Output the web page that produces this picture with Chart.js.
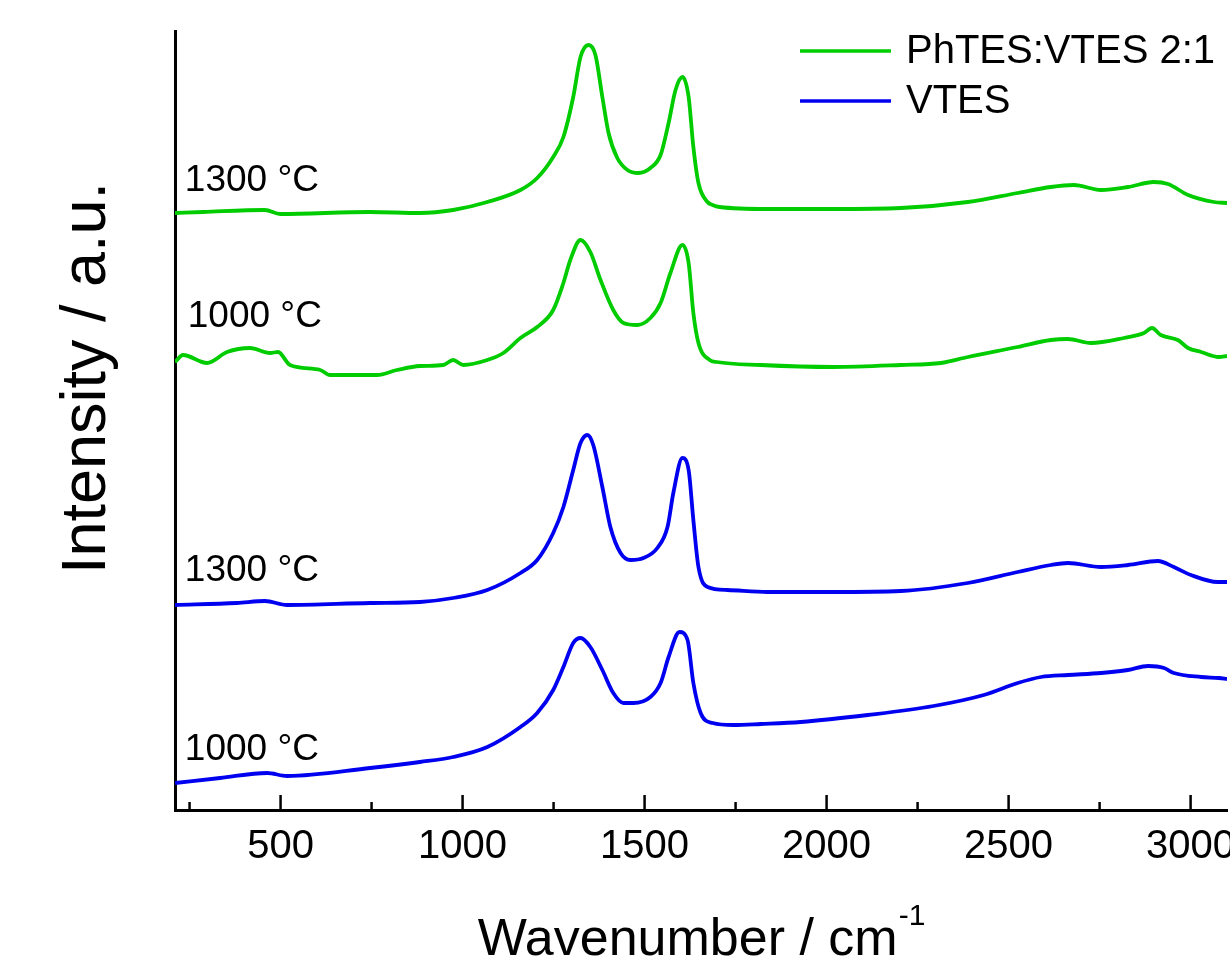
<!DOCTYPE html>
<html>
<head>
<meta charset="utf-8">
<script src="https://cdn.jsdelivr.net/npm/chart.js@4/dist/chart.umd.min.js"></script>
<style>
  html, body { margin: 0; padding: 0; background: #fff; }
  #wrap { width: 1230px; height: 961px; }
</style>
</head>
<body>
<div id="wrap"><canvas id="raman" width="1230" height="961"></canvas></div>
<script>
// wavenumbers (cm-1) and intensities (a.u., curves stacked with offsets)
const green1300_x = [210, 287, 457, 499, 746, 883, 974, 1068, 1159, 1205, 1249, 1277, 1304, 1324, 1346, 1365, 1384, 1401, 1425, 1453, 1483, 1516, 1544, 1566, 1585, 1604, 1621, 1634, 1648, 1673, 1687, 1706, 1838, 2019, 2204, 2388, 2525, 2616, 2679, 2754, 2828, 2899, 2938, 2993, 3064, 3100];
const green1300_y = [597, 598, 600, 596, 598, 597, 600, 608, 620, 632, 653, 673, 713, 753, 765, 755, 713, 677, 652, 640, 637, 642, 655, 687, 720, 733, 713, 663, 627, 608, 605, 603, 601, 601, 602, 608, 617, 623, 625, 620, 623, 628, 626, 615, 608, 607];

const green1000_x = [210, 232, 298, 353, 416, 471, 493, 526, 609, 636, 710, 765, 820, 883, 947, 974, 1002, 1068, 1112, 1159, 1205, 1249, 1277, 1296, 1324, 1351, 1379, 1414, 1442, 1480, 1516, 1544, 1571, 1604, 1621, 1634, 1648, 1679, 1698, 1819, 2019, 2204, 2314, 2388, 2525, 2616, 2663, 2726, 2817, 2872, 2894, 2918, 2965, 2993, 3029, 3078, 3100];
const green1000_y = [448, 455, 447, 458, 462, 457, 458, 445, 440, 435, 435, 435, 440, 444, 445, 450, 445, 450, 457, 472, 483, 500, 527, 550, 570, 558, 530, 500, 487, 485, 492, 507, 537, 565, 547, 497, 467, 450, 448, 445, 443, 445, 447, 453, 463, 470, 471, 467, 472, 477, 482, 475, 470, 462, 458, 453, 454];

const blue1300_x = [210, 380, 457, 518, 746, 883, 974, 1068, 1159, 1205, 1249, 1277, 1304, 1324, 1343, 1359, 1384, 1406, 1434, 1461, 1497, 1535, 1563, 1579, 1604, 1621, 1634, 1648, 1673, 1728, 1838, 2019, 2204, 2388, 2525, 2616, 2663, 2754, 2828, 2910, 2954, 3001, 3075, 3100];
const blue1300_y = [205, 207, 209, 205, 207, 208, 212, 220, 237, 250, 277, 303, 340, 367, 375, 365, 323, 283, 257, 250, 252, 262, 283, 317, 352, 340, 290, 243, 223, 220, 218, 218, 219, 227, 238, 245, 247, 243, 245, 249, 243, 235, 228, 228];

const blue1000_x = [210, 334, 463, 518, 746, 883, 974, 1068, 1159, 1205, 1249, 1277, 1304, 1324, 1351, 1384, 1414, 1442, 1469, 1516, 1544, 1566, 1596, 1618, 1634, 1654, 1687, 1744, 1819, 1929, 2113, 2294, 2432, 2525, 2589, 2663, 2754, 2828, 2883, 2927, 2954, 3029, 3078, 3100];
const blue1000_y = [27, 32, 37, 34, 42, 48, 53, 63, 83, 97, 120, 143, 167, 172, 163, 140, 117, 107, 107, 113, 127, 153, 178, 170, 127, 97, 87, 85, 86, 88, 95, 104, 115, 127, 133, 135, 137, 140, 144, 142, 137, 133, 132, 131];

const xTicks = [500, 1000, 1500, 2000, 2500, 3000];
const legendNames = ["PhTES:VTES 2:1", "VTES"];
const tempLabels = ["1300 °C", "1000 °C", "1300 °C", "1000 °C"];
const tempLabelAt = [[237, 619], [245, 483], [237, 229], [237, 50]];  // [wavenumber, intensity]

const GREEN = '#00cc00';
const BLUE = '#0000f0';
const FONT = '"Liberation Sans", Arial, sans-serif';

function pts(xs, ys) {
    return xs.map((x, i) => ({ x: x, y: ys[i] }));
}

function lineSet(label, xs, ys, color) {
    return {
        label: label,
        data: pts(xs, ys),
        borderColor: color,
        backgroundColor: color,
        borderWidth: 3.8,
        pointRadius: 0,
        fill: false,
        cubicInterpolationMode: 'monotone'
    };
}

const decorPlugin = {
    id: 'decor',
    afterDraw(chart) {
        const ctx = chart.ctx;
        const xs = chart.scales.x;
        const ys = chart.scales.y;
        const area = chart.chartArea;

        // ticks pointing inward, major every 500, minor every 250
        ctx.save();
        ctx.strokeStyle = '#000';
        ctx.lineWidth = 2.5;
        for (let v = 250; v <= 3000; v += 250) {
            const px = xs.getPixelForValue(v);
            const len = v % 500 === 0 ? 15 : 8;
            ctx.beginPath();
            ctx.moveTo(px, area.bottom);
            ctx.lineTo(px, area.bottom - len);
            ctx.stroke();
        }
        ctx.restore();

        ctx.save();
        ctx.fillStyle = '#000';

        // x tick labels
        ctx.font = '40px ' + FONT;
        ctx.textAlign = 'center';
        ctx.textBaseline = 'middle';
        xTicks.forEach(v => {
            ctx.fillText(String(v), xs.getPixelForValue(v), area.bottom + 37);
        });

        // y title
        ctx.save();
        ctx.translate(105, 378);
        ctx.rotate(-Math.PI / 2);
        ctx.font = '63px ' + FONT;
        ctx.textAlign = 'center';
        ctx.textBaseline = 'alphabetic';
        ctx.fillText('Intensity / a.u.', 0, 0);
        ctx.restore();

        // x title with superscript
        ctx.font = '52px ' + FONT;
        ctx.textAlign = 'left';
        ctx.textBaseline = 'alphabetic';
        const main = 'Wavenumber / cm';
        const w1 = ctx.measureText(main).width;
        ctx.font = '30px ' + FONT;
        const w2 = ctx.measureText('-1').width;
        const x0 = (area.left + area.right) / 2 - (w1 + w2) / 2;
        ctx.font = '52px ' + FONT;
        ctx.fillText(main, x0, 955);
        ctx.font = '30px ' + FONT;
        ctx.fillText('-1', x0 + w1 + 1, 925);

        // temperature labels
        ctx.font = '37px ' + FONT;
        tempLabels.forEach((t, i) => {
            const p = tempLabelAt[i];
            ctx.fillText(t, xs.getPixelForValue(p[0]), ys.getPixelForValue(p[1]));
        });

        // legend
        const legendColors = [GREEN, BLUE];
        ctx.font = '40px ' + FONT;
        ctx.textBaseline = 'middle';
        legendNames.forEach((name, i) => {
            const y = 51 + i * 50;
            ctx.strokeStyle = legendColors[i];
            ctx.lineWidth = 3.5;
            ctx.beginPath();
            ctx.moveTo(800, y);
            ctx.lineTo(891, y);
            ctx.stroke();
            ctx.fillText(name, 906, y + 1);
        });
        ctx.restore();
    }
};

const ctx = document.getElementById('raman').getContext('2d');

new Chart(ctx, {
    type: 'line',
    data: {
        datasets: [
            lineSet('PhTES:VTES 2:1 1300', green1300_x, green1300_y, GREEN),
            lineSet('PhTES:VTES 2:1 1000', green1000_x, green1000_y, GREEN),
            lineSet('VTES 1300', blue1300_x, blue1300_y, BLUE),
            lineSet('VTES 1000', blue1000_x, blue1000_y, BLUE)
        ]
    },
    options: {
        responsive: false,
        animation: false,
        layout: { padding: { top: 31, right: 3, left: 0, bottom: 0 } },
        plugins: {
            legend: { display: false },
            tooltip: { enabled: false }
        },
        scales: {
            x: {
                type: 'linear',
                min: 210,
                max: 3100,
                grid: { display: false, drawTicks: false },
                border: { display: true, color: '#000', width: 3 },
                ticks: { display: false },
                afterFit(scale) {
                    scale.height = 151;
                    scale.paddingLeft = 0;
                    scale.paddingRight = 0;
                }
            },
            y: {
                min: 0,
                max: 779,
                grid: { display: false, drawTicks: false },
                border: { display: true, color: '#000', width: 3 },
                ticks: { display: false },
                afterFit(scale) {
                    scale.width = 175;
                    scale.paddingTop = 0;
                    scale.paddingBottom = 0;
                }
            }
        }
    },
    plugins: [decorPlugin]
});
</script>
</body>
</html>
